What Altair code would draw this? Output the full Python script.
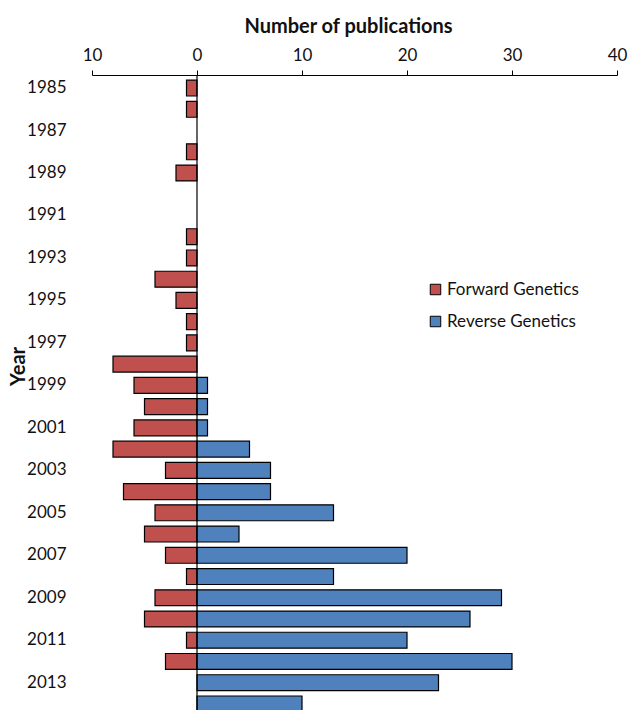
import altair as alt
import pandas as pd

years = list(range(1985, 2015))
forward = [1, 1, 0, 1, 2, 0, 0, 1, 1, 4, 2, 1, 1, 8, 6, 5, 6, 8, 3, 7, 4, 5, 3, 1, 4, 5, 1, 3, 0, 0]
reverse = [0, 0, 0, 0, 0, 0, 0, 0, 0, 0, 0, 0, 0, 0, 1, 1, 1, 5, 7, 7, 13, 4, 20, 13, 29, 26, 20, 30, 23, 10]
series = ["Forward Genetics", "Reverse Genetics"]
colors = ["#C0504D", "#4F81BD"]
x_ticks = [-10, 0, 10, 20, 30, 40]

rows = []
for y, f, r in zip(years, forward, reverse):
    if f:
        rows.append({"year": y, "type": series[0], "value": -f})
    if r:
        rows.append({"year": y, "type": series[1], "value": r})
df = pd.DataFrame(rows)

FONT = "Lato"
LBL = 17
TTL = 20

bars = alt.Chart(df).mark_bar(stroke="black", strokeWidth=1.2).encode(
    y=alt.Y("year:O", sort=years,
            scale=alt.Scale(domain=years, range=[0, 642], paddingInner=0.25, paddingOuter=0.24),
            axis=alt.Axis(title="Year", labelExpr="datum.value % 2 == 1 ? datum.label : ''",
                          domain=False, ticks=False, labelPadding=26, labelFontSize=LBL,
                          labelColor="#111", labelFont=FONT, titleFont=FONT, titleFontSize=TTL,
                          titleFontWeight="bold", titleColor="#111", titleAngle=-90,
                          titleX=-74, titleY=291, titleAlign="center", titleBaseline="middle")),
    x=alt.X("value:Q", scale=alt.Scale(domain=[-10, 40], nice=False),
            axis=alt.Axis(orient="top", values=x_ticks, labelExpr="abs(datum.value)",
                          labelFlush=False,
                          title="Number of publications", grid=False, domainColor="black",
                          tickColor="black", tickSize=5, labelFontSize=LBL, labelColor="#111",
                          labelFont=FONT, titleFont=FONT, titleFontSize=TTL, titleFontWeight="bold",
                          titleColor="#111", titlePadding=10, labelPadding=6, titleX=256)),
    color=alt.Color("type:N", scale=alt.Scale(domain=series, range=colors),
                    legend=alt.Legend(title=None, orient="none", legendX=335, legendY=206,
                                      symbolType="square", symbolSize=110, symbolStrokeColor="black",
                                      symbolStrokeWidth=1, symbolOpacity=1, labelFontSize=LBL,
                                      labelFont=FONT, labelColor="#111", rowPadding=14,
                                      labelOffset=3)),
)

zero = alt.Chart(pd.DataFrame({"x": [0]})).mark_rule(color="black", strokeWidth=1.2).encode(
    x=alt.X("x:Q")
)

chart = alt.layer(bars, zero).properties(
    width=525, height=635,
    background="white",
    autosize=alt.AutoSizeParams(type="none"),
    padding={"left": 92, "top": 75, "right": 11, "bottom": 0},
).configure_view(stroke=None, strokeWidth=0)

chart.save("out.html", embed_options={"renderer": "svg", "actions": False})
